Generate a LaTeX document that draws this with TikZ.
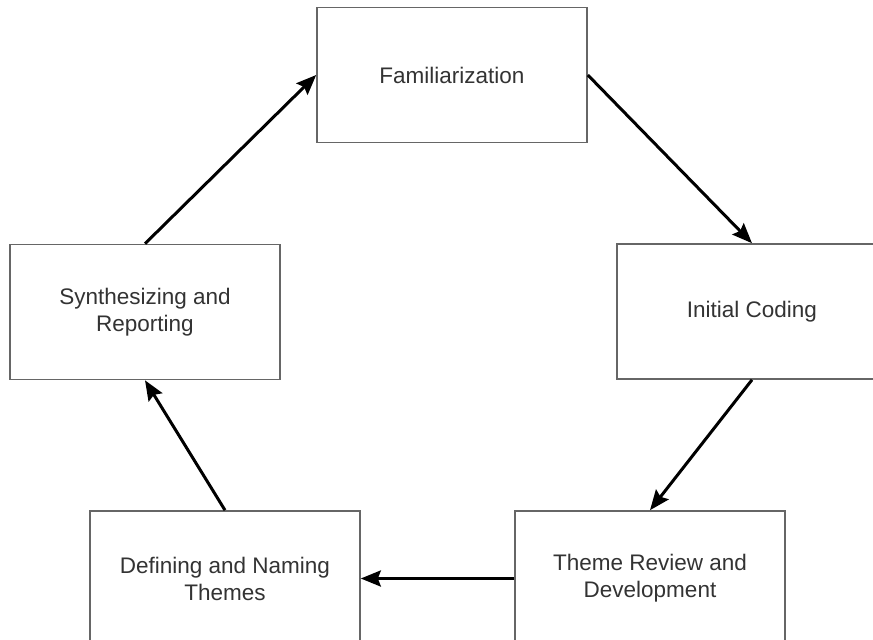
\documentclass[tikz,border=0pt]{standalone}
\usepackage{fontspec}
\setmainfont{Liberation Sans}
\usetikzlibrary{arrows.meta}
\definecolor{boxline}{HTML}{666666}
\definecolor{txt}{HTML}{333333}
\begin{document}
\begin{tikzpicture}[x=1pt,y=-1pt,
  stagebox/.style={draw=boxline, line width=1.6pt, fill=white, rectangle,
    minimum width=270pt, minimum height=135pt, align=center, text=txt,
    font=\fontsize{22.5}{27}\selectfont, inner sep=0pt},
  flow/.style={line width=3pt, draw=black,
    -{Stealth[length=20pt,width=16pt,inset=3pt]}}]
\useasboundingbox (0,0) rectangle (873,640);
\clip (0,0) rectangle (873,640);
\node[stagebox] (fam) at (452,75) {Familiarization};
\node[stagebox] (ic) at (752,311.5) {Initial Coding};
\node[stagebox] (tr) at (650,578.5) {Theme Review and\\Development};
\node[stagebox] (dn) at (225,578.5) {Defining and Naming\\Themes};
\node[stagebox] (sr) at (145,312) {Synthesizing and\\Reporting};
\draw[flow] (fam.east) -- (ic.north);
\draw[flow] (ic.south) -- (tr.north);
\draw[flow] (tr.west) -- (dn.east);
\draw[flow] (dn.north) -- (sr.south);
\draw[flow] (sr.north) -- (fam.west);
\end{tikzpicture}
\end{document}
